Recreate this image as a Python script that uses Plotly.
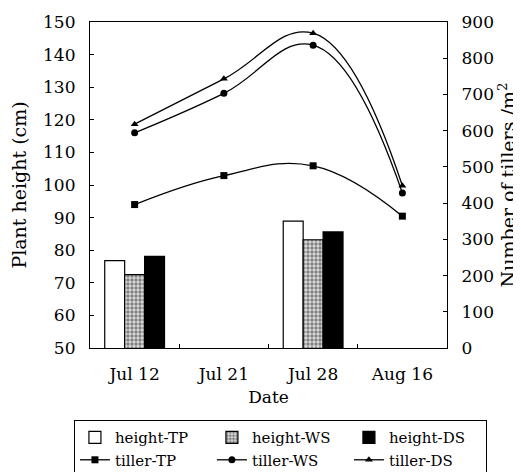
import plotly.graph_objects as go

dates = ["Jul 12", "Jul 21", "Jul 28", "Aug 16"]
height_TP = [76.8, None, 88.9, None]
height_WS = [72.5, None, 83.2, None]
height_DS = [78.1, None, 85.6, None]
tiller_TP = [396, 476, 503, 364]
tiller_WS = [594, 703, 836, 428]
tiller_DS = [618, 743, 869, 448]

FONT = "DejaVu Serif"

fig = go.Figure()
fig.add_trace(go.Bar(x=dates, y=height_TP, name="height-TP",
                     marker=dict(color="white", line=dict(color="black", width=1.2))))
fig.add_trace(go.Bar(x=dates, y=height_WS, name="height-WS",
                     marker=dict(color="white", line=dict(color="black", width=1.2),
                                 pattern=dict(shape=".", fgcolor="#222", bgcolor="#ddd",
                                              size=4, solidity=0.55))))
fig.add_trace(go.Bar(x=dates, y=height_DS, name="height-DS",
                     marker=dict(color="black", line=dict(color="black", width=1.2))))

for name, vals, sym in [("tiller-TP", tiller_TP, "square"),
                        ("tiller-WS", tiller_WS, "circle"),
                        ("tiller-DS", tiller_DS, "triangle-up")]:
    fig.add_trace(go.Scatter(x=dates, y=vals, name=name, yaxis="y2",
                             mode="lines+markers",
                             line=dict(color="black", width=1.3, shape="spline", smoothing=1.2),
                             marker=dict(symbol=sym, size=7, color="black")))

fig.update_layout(
    width=521, height=472,
    margin=dict(l=82, r=82, t=14, b=132, autoexpand=False),
    paper_bgcolor="white", plot_bgcolor="white",
    font=dict(family=FONT, size=17, color="black"),
    barmode="group", bargap=0.33, bargroupgap=0,
    showlegend=True,
    legend=dict(orientation="h", x=-0.045, xanchor="left", y=-0.221, yanchor="top",
                bordercolor="black", borderwidth=1, bgcolor="white",
                font=dict(family=FONT, size=15), itemwidth=30,
                entrywidth=92, entrywidthmode="pixels", tracegroupgap=0),
    xaxis=dict(type="category", range=[-0.5, 3.5], showline=True, linecolor="black",
               linewidth=1.2, mirror=True, ticks="inside", tickson="boundaries",
               ticklen=4, tickcolor="black", showgrid=False, ticklabelstandoff=10,
               title=dict(text="Date", standoff=8, font=dict(size=17))),
    yaxis=dict(range=[50, 150], dtick=10, showline=True, linecolor="black", linewidth=1.2,
               ticks="inside", ticklen=4, tickcolor="black", showgrid=False, zeroline=False,
               ticklabelstandoff=10,
               title=dict(text="Plant height (cm)", standoff=12, font=dict(size=19))),
    yaxis2=dict(range=[0, 900], dtick=100, overlaying="y", side="right", showline=True,
                linecolor="black", linewidth=1.2, ticks="inside", ticklen=4, tickcolor="black",
                showgrid=False, zeroline=False, ticklabelstandoff=10,
                title=dict(text="Number of tillers /m<sup>2</sup>", standoff=8, font=dict(size=19))),
)

fig.write_html("out.html")
